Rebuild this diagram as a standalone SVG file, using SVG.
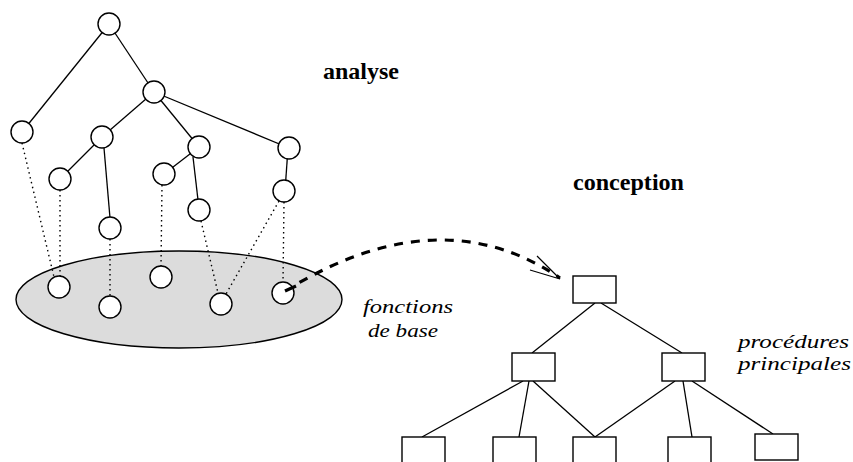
<svg xmlns="http://www.w3.org/2000/svg" width="853" height="462" viewBox="0 0 853 462">
<style>
.ln{stroke:#000;stroke-width:1.3;fill:none}
.dot{stroke:#000;stroke-width:1.4;fill:none;stroke-dasharray:1.5 3.5}
.nd{fill:#fff;stroke:#000;stroke-width:1.4}
.bx{fill:#fff;stroke:#000;stroke-width:1.4}
.bold{font-family:"Liberation Serif","Times New Roman",serif;font-weight:bold;font-size:24px;fill:#000}
.it{font-family:"Liberation Serif","Times New Roman",serif;font-style:italic;font-size:19px;fill:#000}
</style>
<rect width="853" height="462" fill="#fff"/>
<g id="base-ellipse"><ellipse cx="179" cy="299.5" rx="163" ry="48.5" fill="#dcdcdc" stroke="#000" stroke-width="1.4"/></g>
<g id="connectors">
<line class="ln" x1="109" y1="24" x2="22" y2="132"/>
<line class="ln" x1="109" y1="24" x2="154" y2="92"/>
<line class="ln" x1="154" y1="92" x2="102" y2="137"/>
<line class="ln" x1="154" y1="92" x2="199" y2="147"/>
<line class="ln" x1="154" y1="92" x2="289" y2="148"/>
<line class="ln" x1="102" y1="137" x2="60" y2="179"/>
<line class="ln" x1="104" y1="148" x2="110" y2="218"/>
<line class="ln" x1="199" y1="147" x2="164" y2="174"/>
<line class="ln" x1="193" y1="157" x2="198" y2="200"/>
<line class="ln" x1="288" y1="148" x2="285" y2="191"/>
<line class="dot" x1="22" y1="143" x2="54" y2="277"/>
<line class="dot" x1="60" y1="190" x2="60" y2="276"/>
<line class="dot" x1="110" y1="239" x2="110" y2="296"/>
<line class="dot" x1="162" y1="185" x2="161" y2="266"/>
<line class="dot" x1="201" y1="221" x2="218" y2="293"/>
<line class="dot" x1="279" y1="201" x2="226" y2="294"/>
<line class="dot" x1="284" y1="202" x2="283" y2="282"/>
<path d="M285,291 C360,245 460,210 560,278" fill="none" stroke="#000" stroke-width="3.2" stroke-dasharray="9 8"/>
<path d="M537,256 L560,279 L530,270" fill="none" stroke="#000" stroke-width="1.2"/>
<line class="ln" x1="595" y1="303" x2="532" y2="353"/>
<line class="ln" x1="601" y1="303" x2="682" y2="353"/>
<line class="ln" x1="523" y1="381" x2="422" y2="437"/>
<line class="ln" x1="529" y1="381" x2="519" y2="437"/>
<line class="ln" x1="533" y1="381" x2="595" y2="437"/>
<line class="ln" x1="675" y1="381" x2="595" y2="437"/>
<line class="ln" x1="683" y1="381" x2="692" y2="437"/>
<line class="ln" x1="692" y1="381" x2="773" y2="434"/>
</g>
<g id="n-root"><circle class="nd" cx="109" cy="24" r="11"/></g>
<g id="n-l1"><circle class="nd" cx="22" cy="132" r="11"/></g>
<g id="n-a"><circle class="nd" cx="154" cy="92" r="11"/></g>
<g id="n-b"><circle class="nd" cx="102" cy="137" r="11"/></g>
<g id="n-c"><circle class="nd" cx="199" cy="147" r="11"/></g>
<g id="n-d"><circle class="nd" cx="289" cy="148" r="11"/></g>
<g id="n-b1"><circle class="nd" cx="60" cy="179" r="11"/></g>
<g id="n-b2"><circle class="nd" cx="110" cy="228" r="11"/></g>
<g id="n-c1"><circle class="nd" cx="164" cy="174" r="11"/></g>
<g id="n-c2"><circle class="nd" cx="199" cy="210" r="11"/></g>
<g id="n-d1"><circle class="nd" cx="284" cy="191" r="11"/></g>
<g id="n-e1"><circle class="nd" cx="59" cy="287" r="11"/></g>
<g id="n-e2"><circle class="nd" cx="110" cy="307" r="11"/></g>
<g id="n-e3"><circle class="nd" cx="161" cy="277" r="11"/></g>
<g id="n-e4"><circle class="nd" cx="221" cy="304" r="11"/></g>
<g id="n-e5"><circle class="nd" cx="283" cy="293" r="11"/></g>
<path d="M285,291 L296,286" fill="none" stroke="#000" stroke-width="3.2"/>
<g id="p-top"><rect class="bx" x="573" y="276" width="43" height="27"/></g>
<g id="p-ml"><rect class="bx" x="512" y="353" width="43" height="28"/></g>
<g id="p-mr"><rect class="bx" x="662" y="353" width="43" height="28"/></g>
<g id="p-b1"><rect class="bx" x="402" y="437" width="43" height="30"/></g>
<g id="p-b2"><rect class="bx" x="493" y="437" width="43" height="30"/></g>
<g id="p-b3"><rect class="bx" x="573" y="437" width="43" height="30"/></g>
<g id="p-b4"><rect class="bx" x="668" y="437" width="43" height="30"/></g>
<g id="p-b5"><rect class="bx" x="755" y="434" width="43" height="26"/></g>
<g id="labels">
<text class="bold" x="323" y="79" textLength="76" lengthAdjust="spacingAndGlyphs">analyse</text>
<text class="bold" x="573" y="190" textLength="111" lengthAdjust="spacingAndGlyphs">conception</text>
<text class="it" x="363" y="313" textLength="90" lengthAdjust="spacingAndGlyphs">fonctions</text>
<text class="it" x="368" y="337" textLength="70" lengthAdjust="spacingAndGlyphs">de base</text>
<text class="it" x="738" y="348" textLength="111" lengthAdjust="spacingAndGlyphs">procédures</text>
<text class="it" x="738" y="370" textLength="113" lengthAdjust="spacingAndGlyphs">principales</text>
</g>
</svg>
